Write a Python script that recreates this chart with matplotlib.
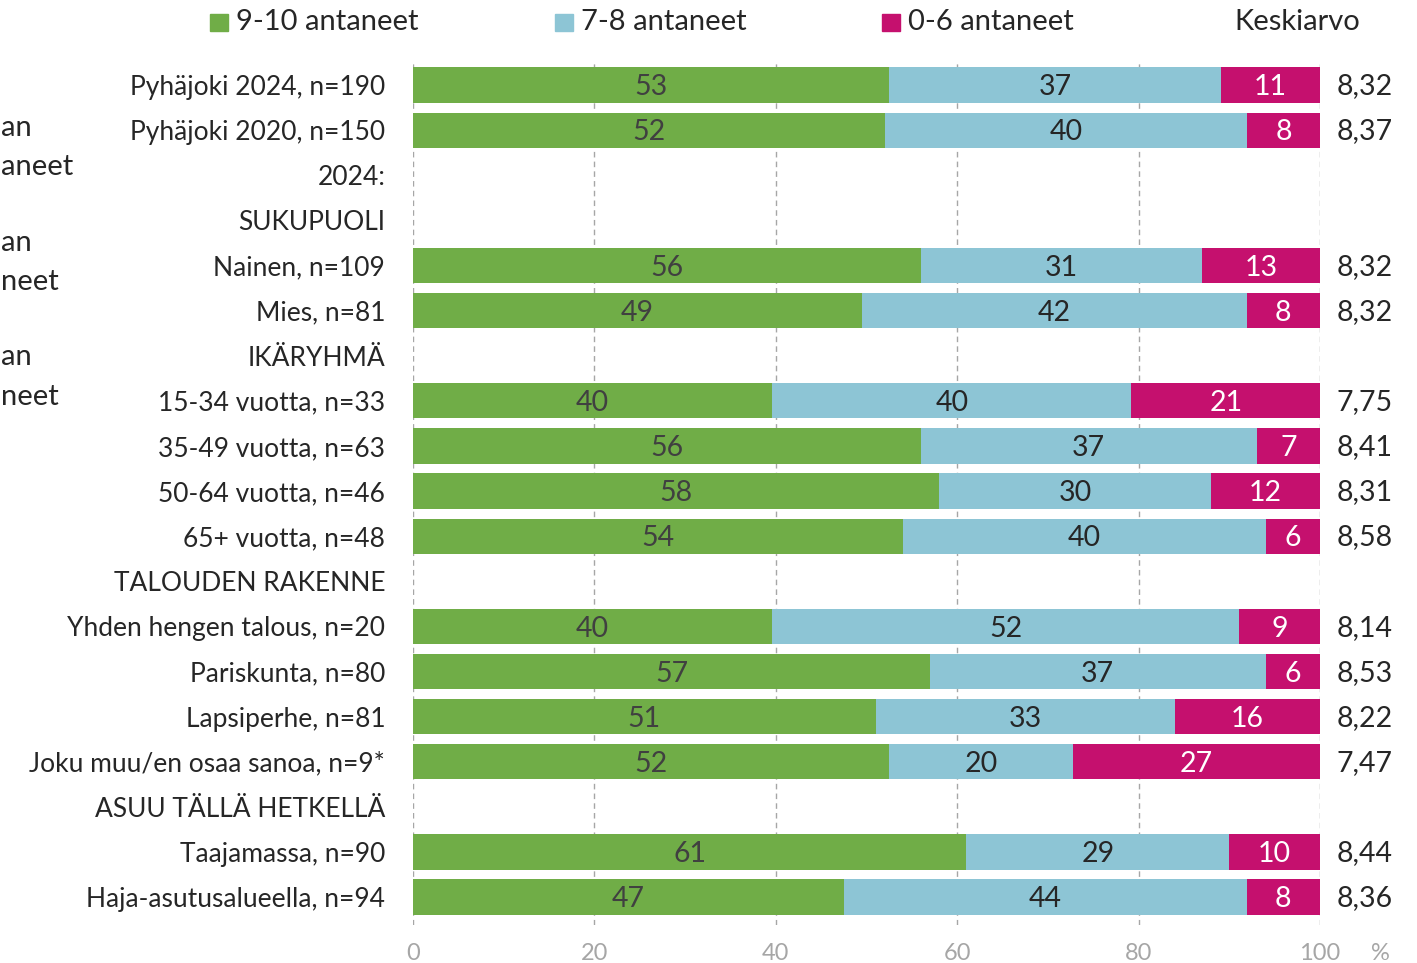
import matplotlib.pyplot as plt
from matplotlib.patches import Rectangle

plt.rcParams['font.family'] = ['Lato', 'DejaVu Sans']

# rivit ylhäältä alas, None = väliotsikko
labels = [
    "Pyhäjoki 2024, n=190", "Pyhäjoki 2020, n=150", "2024:", "SUKUPUOLI",
    "Nainen, n=109", "Mies, n=81", "IKÄRYHMÄ",
    "15-34 vuotta, n=33", "35-49 vuotta, n=63", "50-64 vuotta, n=46", "65+ vuotta, n=48",
    "TALOUDEN RAKENNE",
    "Yhden hengen talous, n=20", "Pariskunta, n=80", "Lapsiperhe, n=81",
    "Joku muu/en osaa sanoa, n=9*", "ASUU TÄLLÄ HETKELLÄ",
    "Taajamassa, n=90", "Haja-asutusalueella, n=94",
]
high = [53, 52, None, None, 56, 49, None, 40, 56, 58, 54, None, 40, 57, 51, 52, None, 61, 47]
mid = [37, 40, None, None, 31, 42, None, 40, 37, 30, 40, None, 52, 37, 33, 20, None, 29, 44]
low = [11, 8, None, None, 13, 8, None, 21, 7, 12, 6, None, 9, 6, 16, 27, None, 10, 8]
means = ["8,32", "8,37", None, None, "8,32", "8,32", None, "7,75", "8,41", "8,31", "8,58",
         None, "8,14", "8,53", "8,22", "7,47", None, "8,44", "8,36"]
ticks = [0, 20, 40, 60, 80, 100]
series = ["9-10 antaneet", "7-8 antaneet", "0-6 antaneet"]
colors = ["#70AD47", "#8DC5D5", "#C5106E"]
text_colors = ["#404040", "#262626", "white"]

fig = plt.figure(figsize=(14.17, 9.63), dpi=100)
ax = fig.add_axes([413 / 1417, 1 - 925 / 963, 907 / 1417, (925 - 62) / 963])

for i, (h, m, l) in enumerate(zip(high, mid, low)):
    if h is None:
        continue
    tot = h + m + l
    left = 0
    for v, c, tc in zip([h, m, l], colors, text_colors):
        w = v / tot * 100
        ax.barh(i, w, left=left, height=0.78, color=c, zorder=2)
        ax.text(left + w / 2, i + 0.05, str(v), ha='center', va='center',
                fontsize=20.5, color=tc, zorder=3)
        left += w
    ax.text(101.8, i + 0.03, means[i], ha='left', va='center', fontsize=20.5,
            color='#262626', clip_on=False)

ax.set_xlim(0, 100)
ax.set_ylim(-0.51, len(labels) - 1 + 0.62)
ax.invert_yaxis()
ax.set_yticks(range(len(labels)))
ax.set_yticklabels(labels, fontsize=19, color='#262626')
ax.set_xticks(ticks)
ax.set_xticklabels([str(t) for t in ticks], fontsize=17, color='#A6A6A6')
ax.tick_params(axis='both', length=0)
ax.tick_params(axis='y', pad=20)
ax.tick_params(axis='x', pad=13)
ax.grid(axis='x', linestyle=(0, (4, 3)), color='#A6A6A6', linewidth=1, zorder=0)
for s in ax.spines.values():
    s.set_visible(False)

fig.text(1380 / 1417, 1 - 953 / 963, "%", fontsize=17, color='#A6A6A6', ha='center', va='center')

# legenda
leg_x = [210, 555, 882]
for x, name, c in zip(leg_x, series, colors):
    fig.patches.append(Rectangle((x / 1417, 1 - 31 / 963), 18 / 1417, 17 / 963,
                                 transform=fig.transFigure, color=c, figure=fig))
    fig.text((x + 26) / 1417, 1 - 22 / 963, name, fontsize=21, color='#262626',
             ha='left', va='center')
fig.text(1297 / 1417, 1 - 22 / 963, "Keskiarvo", fontsize=21, color='#262626',
         ha='center', va='center')

# viereisestä kuvasta jääneet tekstinpalat vasemmassa reunassa
for txt, y in [("an", 128), ("aneet", 167), ("an", 243),
               ("neet", 282), ("an", 357), ("neet", 397)]:
    fig.text(1 / 1417, 1 - y / 963, txt, fontsize=21, color='#262626', ha='left', va='center')

fig.savefig("out.png", dpi=100)
